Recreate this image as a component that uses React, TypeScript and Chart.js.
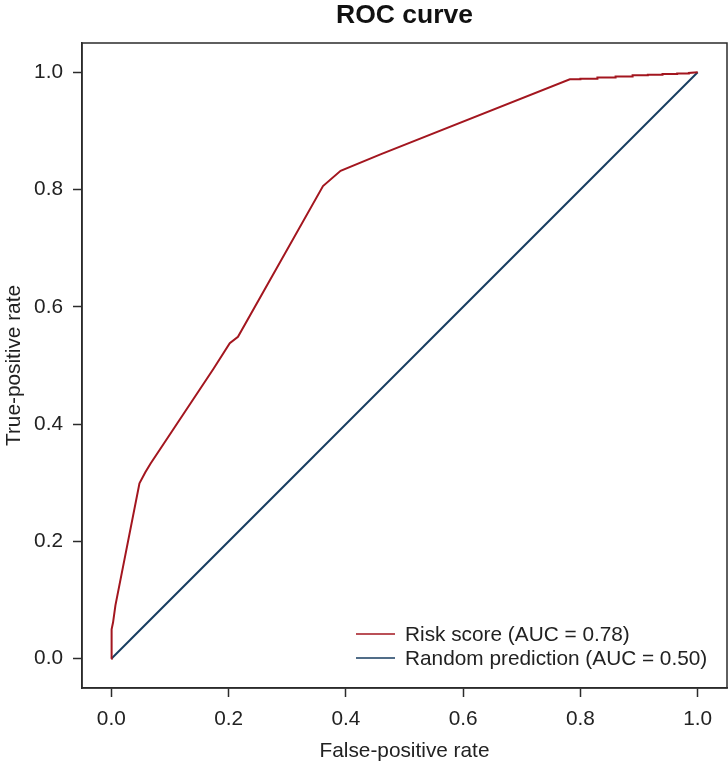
import React, { useEffect, useRef } from "react";
import { Chart, registerables } from "chart.js";

Chart.register(...registerables);

// ROC curve of the risk score (false-positive rate vs true-positive rate)
const riskFpr = [
  0, 0, 0.001, 0.003, 0.007, 0.048, 0.058, 0.067, 0.174, 0.202, 0.216, 0.361,
  0.391, 0.459, 0.782, 0.8, 0.8, 0.829, 0.829, 0.86, 0.86, 0.889, 0.889, 0.915,
  0.915, 0.94, 0.94, 0.965, 0.965, 0.985, 0.985, 1.0,
];
const riskTpr = [
  0, 0.043, 0.05, 0.062, 0.091, 0.299, 0.318, 0.333, 0.494, 0.538, 0.549,
  0.806, 0.832, 0.86, 0.988, 0.988, 0.989, 0.989, 0.991, 0.991, 0.993, 0.993,
  0.995, 0.995, 0.996, 0.996, 0.997, 0.997, 0.998, 0.998, 0.999, 1.0,
];

// Diagonal reference line of a random classifier
const randomFpr = [0, 1];
const randomTpr = [0, 1];

const axisTicks = [0, 0.2, 0.4, 0.6, 0.8, 1.0];

const titleText = "ROC curve";
const xTitle = "False-positive rate";
const yTitle = "True-positive rate";
const legendLabels = ["Risk score (AUC = 0.78)", "Random prediction (AUC = 0.50)"];

const RED = "#a3161f";
const BLUE = "#173d60";
const INK = "#2b2b2b";
const FONT = "'Liberation Sans', Arial, Helvetica, sans-serif";
const TEXT_SIZE = 20.8;

const toPoints = (xs: number[], ys: number[]) => xs.map((x, i) => ({ x, y: ys[i] }));

// Frame, title and in-plot legend
const decorations = {
  id: "decorations",
  afterDraw(chart: any) {
    const { ctx, chartArea } = chart;
    const { left, right, top, bottom } = chartArea;
    ctx.save();
    ctx.strokeStyle = INK;
    ctx.lineWidth = 1.5;
    ctx.strokeRect(left, top, right - left, bottom - top);

    ctx.fillStyle = "#111";
    ctx.font = `bold 26.5px ${FONT}`;
    ctx.textAlign = "center";
    ctx.textBaseline = "middle";
    ctx.fillText(titleText, (left + right) / 2, 16);

    const colors = [RED, BLUE];
    const x0 = 356;
    const x1 = 395;
    const rows = [634, 658];
    ctx.font = `${TEXT_SIZE}px ${FONT}`;
    ctx.textAlign = "left";
    ctx.textBaseline = "middle";
    legendLabels.forEach((label, i) => {
      ctx.strokeStyle = colors[i];
      ctx.lineWidth = 1.5;
      ctx.beginPath();
      ctx.moveTo(x0, rows[i]);
      ctx.lineTo(x1, rows[i]);
      ctx.stroke();
      ctx.fillStyle = "#222";
      ctx.fillText(label, 405, rows[i] + 1);
    });
    ctx.restore();
  },
};

export default function App() {
  const canvasRef = useRef<HTMLCanvasElement | null>(null);

  useEffect(() => {
    document.body.style.margin = "0";
    const canvas = canvasRef.current;
    if (!canvas) return;

    const axisCommon = (title: string, pad: any) => ({
      type: "linear" as const,
      min: -0.05,
      max: 1.05,
      afterBuildTicks: (scale: any) => {
        scale.ticks = axisTicks.map((v) => ({ value: v }));
      },
      ticks: {
        color: "#222",
        font: { size: TEXT_SIZE, family: FONT },
        padding: 10,
        callback: (v: any) => Number(v).toFixed(1),
        maxRotation: 0,
        autoSkip: false,
      },
      grid: {
        display: true,
        drawOnChartArea: false,
        drawTicks: true,
        tickLength: 9,
        tickWidth: 1.5,
        tickColor: INK,
      },
      border: { display: true, color: INK, width: 1.5 },
      title: {
        display: true,
        text: title,
        color: "#222",
        font: { size: TEXT_SIZE, family: FONT },
        padding: pad,
      },
    });

    const chart = new Chart(canvas, {
      type: "scatter",
      data: {
        datasets: [
          {
            label: legendLabels[0],
            data: toPoints(riskFpr, riskTpr),
            showLine: true,
            borderColor: RED,
            borderWidth: 2,
            pointRadius: 0,
            tension: 0,
          },
          {
            label: legendLabels[1],
            data: toPoints(randomFpr, randomTpr),
            showLine: true,
            borderColor: BLUE,
            borderWidth: 2,
            pointRadius: 0,
            tension: 0,
          },
        ],
      },
      options: {
        animation: false,
        responsive: false,
        maintainAspectRatio: false,
        layout: { padding: { top: 43, right: 1, left: 0, bottom: 0 } },
        plugins: {
          legend: { display: false },
          title: { display: false },
          tooltip: { enabled: false },
        },
        scales: {
          x: {
            ...axisCommon(xTitle, { top: 0, bottom: 3 }),
            afterFit: (scale: any) => {
              scale.height = 79;
            },
          },
          y: {
            ...axisCommon(yTitle, { top: 2, bottom: 0 }),
            afterFit: (scale: any) => {
              scale.width = 82;
            },
          },
        },
      },
      plugins: [decorations],
    });

    return () => chart.destroy();
  }, []);

  return (
    <div style={{ width: 728, height: 767, background: "#fff" }}>
      <canvas ref={canvasRef} width={728} height={767} style={{ display: "block" }} />
    </div>
  );
}
